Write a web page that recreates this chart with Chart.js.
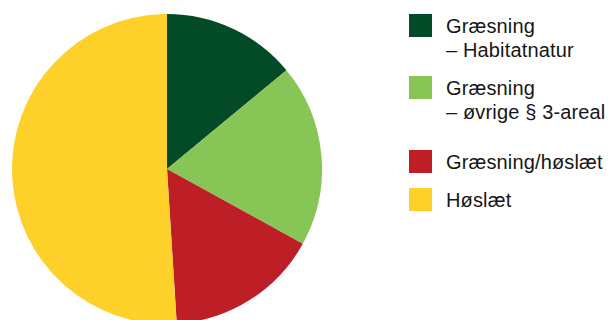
<!DOCTYPE html>
<html>
<head>
<meta charset="utf-8">
<script src="https://cdn.jsdelivr.net/npm/chart.js@4"></script>
<style>
  html, body { margin: 0; padding: 0; background: #fff; overflow: hidden; }
  body { width: 613px; height: 320px; position: relative; }
  #pieBox { position: absolute; left: 12px; top: 14px; width: 310px; height: 310px; }
  #legend {
    position: absolute; left: 409px; top: 14px;
    font-family: "Liberation Sans", Arial, Helvetica, sans-serif;
    font-size: 20px; line-height: 24px; color: #161616;
    letter-spacing: 0.15px; white-space: nowrap;
  }
  .item { display: flex; align-items: flex-start; margin-bottom: 13.5px; }
  .item:nth-child(2) { margin-bottom: 26.5px; }
  .swatch { width: 23px; height: 23px; margin-right: 14px; flex: none; }
</style>
</head>
<body>
<div id="pieBox"><canvas id="myChart" width="310" height="310"></canvas></div>
<div id="legend"></div>

<script>
// areal fordelt på driftsform (pct.)
const labels = ['Græsning\n– Habitatnatur', 'Græsning\n– øvrige § 3-areal', 'Græsning/høslæt', 'Høslæt'];
const values = [14, 19, 16, 51];
const colors = ['#024b26', '#88c557', '#be1f27', '#fdd02a'];

// legend built from the same arrays
const legend = document.getElementById('legend');
labels.forEach((txt, i) => {
    const item = document.createElement('div');
    item.className = 'item';
    const sw = document.createElement('div');
    sw.className = 'swatch';
    sw.style.background = colors[i];
    const label = document.createElement('div');
    label.innerHTML = txt.split('\n').join('<br>');
    item.appendChild(sw);
    item.appendChild(label);
    legend.appendChild(item);
});

const data = {
    labels: labels.map(l => l.replace('\n', ' ')),
    datasets: [{
        data: values,
        backgroundColor: colors,
        borderWidth: 0
    }]
}

const config = {
    type: 'pie',
    data,
    options: {
        responsive: false,
        animation: false,
        layout: { padding: 0 },
        plugins: {
            legend: { display: false },
            tooltip: { enabled: false }
        }
    }
}

const myChart = new Chart(document.getElementById('myChart'), config);
</script>
</body>
</html>
